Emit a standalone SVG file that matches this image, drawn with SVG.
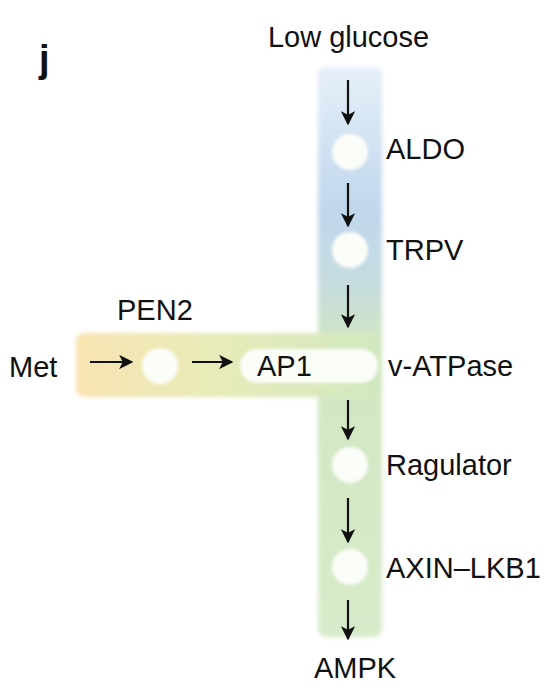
<svg xmlns="http://www.w3.org/2000/svg" width="550" height="695" viewBox="0 0 550 695">
<style>
.t{font-family:"Liberation Sans",Arial,sans-serif;font-size:29px;fill:#111}
.a{stroke:#111;stroke-width:2.2;fill:none;marker-end:url(#ah)}
.dot{fill:#fbfdf8;filter:url(#soft)}
</style>
<defs>
<marker id="ah" viewBox="0 0 10 10" refX="9" refY="5" markerWidth="6.5" markerHeight="6.5" orient="auto" markerUnits="strokeWidth"><path d="M0,0 L10,5 L0,10 L2.5,5 z" fill="#111"/></marker>
<linearGradient id="vg" x1="0" y1="67" x2="0" y2="640" gradientUnits="userSpaceOnUse">
<stop offset="0" stop-color="#e6eff8"/>
<stop offset="0.25" stop-color="#c0d7ee"/>
<stop offset="0.38" stop-color="#c6dcde"/>
<stop offset="0.48" stop-color="#d1e6c2"/>
<stop offset="1" stop-color="#d8ebca"/>
</linearGradient>
<linearGradient id="hg" x1="76" y1="0" x2="382" y2="0" gradientUnits="userSpaceOnUse">
<stop offset="0" stop-color="#f9e4b2"/>
<stop offset="0.4" stop-color="#e9ebb8"/>
<stop offset="1" stop-color="#d2e8c0"/>
</linearGradient>
<filter id="soft" x="-20%" y="-20%" width="140%" height="140%"><feGaussianBlur stdDeviation="1.8"/></filter>
<filter id="soft2" x="-5%" y="-5%" width="110%" height="110%"><feGaussianBlur stdDeviation="2"/></filter>
</defs>
<g id="bars" filter="url(#soft2)">
<rect x="318" y="67" width="64" height="570" rx="8" fill="url(#vg)"/>
<rect x="76" y="333" width="306" height="64" rx="8" fill="url(#hg)"/>
</g>
<text class="t" x="39" y="72" style="font-weight:bold;font-size:38px">j</text>
<g id="low_glucose"><text class="t" x="348.5" y="47" text-anchor="middle">Low glucose</text></g>
<g id="aldo"><circle class="dot" cx="350" cy="152" r="18"/><text class="t" x="386" y="159">ALDO</text></g>
<g id="trpv"><circle class="dot" cx="350" cy="250" r="18"/><text class="t" x="386" y="260">TRPV</text></g>
<g id="vatpase"><rect class="dot" x="240" y="349" width="138" height="34" rx="17"/><text class="t" x="257" y="376">AP1</text><text class="t" x="388" y="376">v-ATPase</text></g>
<g id="pen2"><circle class="dot" cx="160" cy="366" r="18"/><text class="t" x="117" y="320">PEN2</text></g>
<g id="met"><text class="t" x="9" y="377">Met</text></g>
<g id="ragulator"><circle class="dot" cx="350" cy="465" r="18"/><text class="t" x="386" y="475">Ragulator</text></g>
<g id="axin"><circle class="dot" cx="350" cy="567" r="18"/><text class="t" x="386" y="578">AXIN–LKB1</text></g>
<g id="ampk"><text class="t" x="355" y="678" text-anchor="middle">AMPK</text></g>
<g id="connectors">
<line class="a" x1="348" y1="80" x2="348" y2="124"/>
<line class="a" x1="348" y1="183" x2="348" y2="226"/>
<line class="a" x1="348" y1="285" x2="348" y2="327"/>
<line class="a" x1="348" y1="400" x2="348" y2="439"/>
<line class="a" x1="348" y1="498" x2="348" y2="542"/>
<line class="a" x1="348" y1="600" x2="348" y2="639"/>
<line class="a" x1="90" y1="362" x2="132" y2="362"/>
<line class="a" x1="192" y1="362" x2="232" y2="362"/>
</g>
</svg>
